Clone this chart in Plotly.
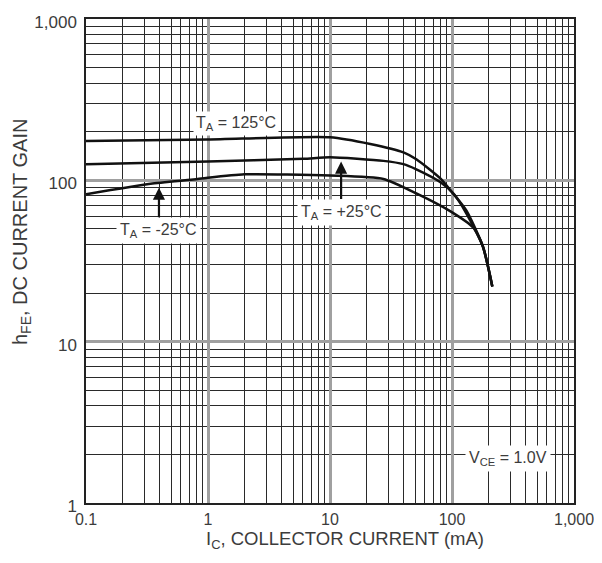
import plotly.graph_objects as go

# ---- data ----
ic_125 = [0.1, 1, 10, 21.4, 40, 51, 81, 98, 131, 179, 214]
hfe_125 = [175, 179, 185, 168, 149, 135, 102, 86, 65, 39, 22]

ic_25 = [0.1, 1, 6.05, 10, 27.4, 40, 51, 81, 104, 131, 179, 214]
hfe_25 = [126, 131, 136, 139, 132, 126, 117, 97, 82, 62.5, 39, 22]

ic_m25 = [0.1, 0.35, 0.82, 1.99, 10, 27.4, 51, 98, 149, 179, 214]
hfe_m25 = [82, 95.5, 102, 109, 107, 102, 83, 64, 51, 39, 22]

x_ticks = [0.1, 1, 10, 100, 1000]
x_ticktext = ["0.1", "1", "10", "100", "1,000"]
y_ticks = [1, 10, 100, 1000]
y_ticktext = ["1", "10", "100", "1,000"]

minor_x = [m * d for d in [0.1, 1, 10, 100] for m in range(2, 10)]
minor_y = [m * d for d in [1, 10, 100] for m in range(2, 10)]

FONT = "Liberation Sans, Arial, sans-serif"
TXT = "#3c3c3c"

fig = go.Figure()
for xs, ys in [(ic_125, hfe_125), (ic_25, hfe_25), (ic_m25, hfe_m25)]:
    fig.add_trace(go.Scatter(x=xs, y=ys, mode="lines",
                             line=dict(color="#111111", width=2.5, shape="spline", smoothing=0.6),
                             showlegend=False, hoverinfo="skip"))

axis_common = dict(
    type="log", showline=True, linecolor="#222", linewidth=1.5, mirror=True,
    gridcolor="#a0a0a0", gridwidth=3, zeroline=False, automargin=False,
    ticks="outside", tickcolor="rgba(0,0,0,0)", ticklabeloverflow="allow",
)

fig.update_xaxes(
    **axis_common, ticklen=1,
    tickfont=dict(family=FONT, size=16, color=TXT),
    range=[-1, 3],
    tickvals=x_ticks, ticktext=x_ticktext,
    minor=dict(tickvals=minor_x, showgrid=True, gridcolor="#2a2a2a", gridwidth=1, ticks=""),
)
fig.update_yaxes(
    **axis_common, ticklen=4, ticklabelshift=3,
    tickfont=dict(family=FONT, size=17, color=TXT),
    range=[0, 3],
    tickvals=y_ticks, ticktext=y_ticktext,
    minor=dict(tickvals=minor_y, showgrid=True, gridcolor="#2a2a2a", gridwidth=1, ticks=""),
)

# axis titles
fig.add_annotation(xref="paper", yref="paper", x=0.531, y=-0.1054,
                   text="I<sub>C</sub>, COLLECTOR CURRENT (mA)", showarrow=False,
                   font=dict(family=FONT, size=18.5, color=TXT), xanchor="center", yanchor="bottom")
fig.add_annotation(xref="paper", yref="paper", x=-0.131, y=0.56, textangle=-90,
                   text="h<sub>FE</sub>, DC CURRENT GAIN", showarrow=False,
                   font=dict(family=FONT, size=20, color=TXT), xanchor="center", yanchor="middle")

afont = dict(family=FONT, size=16, color=TXT)
fig.add_annotation(x=0.226, y=2.353, text="T<sub>A</sub> = 125°C", showarrow=False,
                   font=afont, bgcolor="white", borderpad=2)
fig.add_annotation(x=-0.402, y=1.954, ax=-0.402, ay=1.691, axref="x", ayref="y",
                   text="T<sub>A</sub> = -25°C", showarrow=True, arrowhead=2, arrowsize=1.1,
                   arrowwidth=2.2, arrowcolor="#111", font=afont, bgcolor="white", borderpad=3)
fig.add_annotation(x=1.091, y=2.116, ax=1.091, ay=1.803, axref="x", ayref="y",
                   text="T<sub>A</sub> = +25°C", showarrow=True, arrowhead=2, arrowsize=1.1,
                   arrowwidth=2.2, arrowcolor="#111", font=afont, bgcolor="white", borderpad=3)
fig.add_annotation(x=2.457, y=0.274, text="V<sub>CE</sub> = 1.0V", showarrow=False,
                   font=afont, bgcolor="white", borderpad=3)

fig.update_layout(
    width=586, height=547,
    margin=dict(l=78, r=20, t=11, b=52),
    paper_bgcolor="white", plot_bgcolor="white",
    font=dict(family=FONT, color=TXT),
)

fig.write_html("out.html")
